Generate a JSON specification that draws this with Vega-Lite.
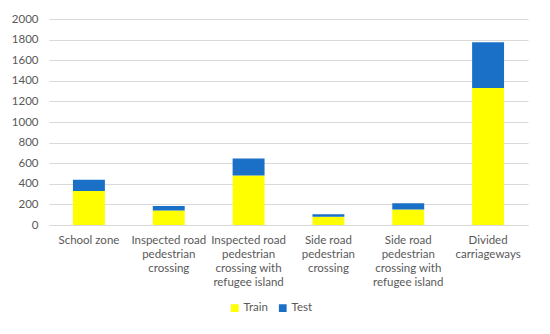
{
  "$schema": "https://vega.github.io/schema/vega-lite/v6.json",
  "width": 479,
  "height": 206,
  "autosize": {"type": "none"},
  "padding": {"left": 49, "top": 19, "right": 22, "bottom": 109},
  "background": "white",
  "data": {
    "values": [
      {"zone": "School zone", "set": "Train", "count": 330},
      {"zone": "School zone", "set": "Test", "count": 110},
      {"zone": "Inspected road pedestrian crossing", "set": "Train", "count": 140},
      {"zone": "Inspected road pedestrian crossing", "set": "Test", "count": 45},
      {"zone": "Inspected road pedestrian crossing with refugee island", "set": "Train", "count": 480},
      {"zone": "Inspected road pedestrian crossing with refugee island", "set": "Test", "count": 165},
      {"zone": "Side road pedestrian crossing", "set": "Train", "count": 80},
      {"zone": "Side road pedestrian crossing", "set": "Test", "count": 25},
      {"zone": "Side road pedestrian crossing with refugee island", "set": "Train", "count": 150},
      {"zone": "Side road pedestrian crossing with refugee island", "set": "Test", "count": 60},
      {"zone": "Divided carriageways", "set": "Train", "count": 1330},
      {"zone": "Divided carriageways", "set": "Test", "count": 445}
    ]
  },
  "mark": {"type": "bar"},
  "encoding": {
    "x": {
      "field": "zone",
      "type": "nominal",
      "sort": null,
      "scale": {"paddingInner": 0.6, "paddingOuter": 0.3},
      "axis": {
        "title": null,
        "labelAngle": 0,
        "ticks": false,
        "domainColor": "#D9D9D9",
        "labelPadding": 9,
        "labelLineHeight": 14.3,
        "labelBaseline": "top",
        "labelExpr": "datum.value == 'Inspected road pedestrian crossing' ? ['Inspected road', 'pedestrian', 'crossing'] : datum.value == 'Inspected road pedestrian crossing with refugee island' ? ['Inspected road', 'pedestrian', 'crossing with', 'refugee island'] : datum.value == 'Side road pedestrian crossing' ? ['Side road', 'pedestrian', 'crossing'] : datum.value == 'Side road pedestrian crossing with refugee island' ? ['Side road', 'pedestrian', 'crossing with', 'refugee island'] : datum.value == 'Divided carriageways' ? ['Divided', 'carriageways'] : datum.value"
      }
    },
    "y": {
      "field": "count",
      "type": "quantitative",
      "stack": "zero",
      "scale": {"domain": [0, 2000]},
      "axis": {
        "title": null,
        "format": "d",
        "values": [0, 200, 400, 600, 800, 1000, 1200, 1400, 1600, 1800, 2000],
        "domain": false,
        "ticks": false,
        "gridColor": "#D9D9D9",
        "labelPadding": 11
      }
    },
    "color": {
      "field": "set",
      "type": "nominal",
      "scale": {"domain": ["Train", "Test"], "range": ["#FFFF00", "#1A70C6"]},
      "legend": {
        "title": null,
        "orient": "none",
        "legendX": 180,
        "legendY": 283,
        "direction": "horizontal",
        "symbolType": "square",
        "symbolSize": 60,
        "symbolStrokeWidth": 0,
        "columnPadding": 8,
        "labelOffset": 3
      }
    },
    "order": {"field": "set", "sort": "descending"}
  },
  "config": {
    "font": "Lato",
    "view": {"stroke": null},
    "axis": {"labelFont": "Lato", "labelFontSize": 11.5, "labelColor": "#595959"},
    "legend": {"labelFont": "Lato", "labelFontSize": 11.5, "labelColor": "#595959"}
  }
}
